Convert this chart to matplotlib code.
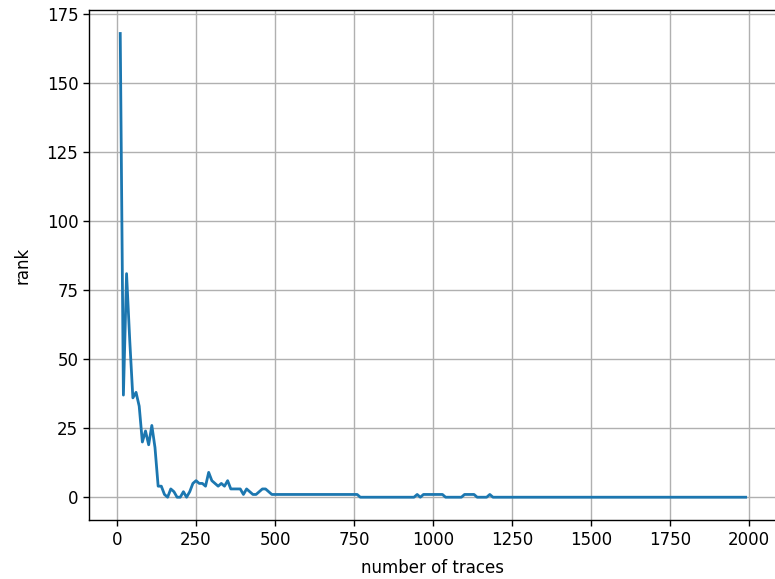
import matplotlib
matplotlib.use("Agg")
import matplotlib.pyplot as plt
import numpy as np

# number of traces used in the attack, step of 10
traces = np.arange(10, 2000, 10)

# rank of the correct key, first 50 points (10..500)
rank_start = [168, 37, 81, 57, 36, 38, 33, 20, 24, 19,
              26, 18, 4, 4, 1, 0, 3, 2, 0, 0,
              2, 0, 2, 5, 6, 5, 5, 4, 9, 6,
              5, 4, 5, 4, 6, 3, 3, 3, 3, 1,
              3, 2, 1, 1, 2, 3, 3, 2, 1, 1]
# later part as (first trace count, last trace count, rank) runs
rank_runs = [(510, 760, 1), (770, 940, 0), (950, 950, 1), (960, 960, 0),
             (970, 1030, 1), (1040, 1090, 0), (1100, 1130, 1),
             (1140, 1170, 0), (1180, 1180, 1), (1190, 1990, 0)]

rank = list(rank_start)
for a, b, v in rank_runs:
    rank += [v] * ((b - a) // 10 + 1)
rank = np.array(rank)

plt.rcParams["font.size"] = 12
fig = plt.figure(figsize=(7.75, 5.79), dpi=100)
ax = fig.add_axes([0.1148, 0.1012, 0.8877, 0.881])
ax.plot(traces, rank, color="#1c77b0", lw=2.0)
ax.grid(True, color="#b0b0b0", lw=1.0)
ax.set_xlabel("number of traces", labelpad=7)
ax.set_ylabel("rank", labelpad=11)
ax.tick_params(length=4.2, width=1.0)
for s in ax.spines.values():
    s.set_linewidth(1.0)
fig.savefig("out.png", dpi=100)
